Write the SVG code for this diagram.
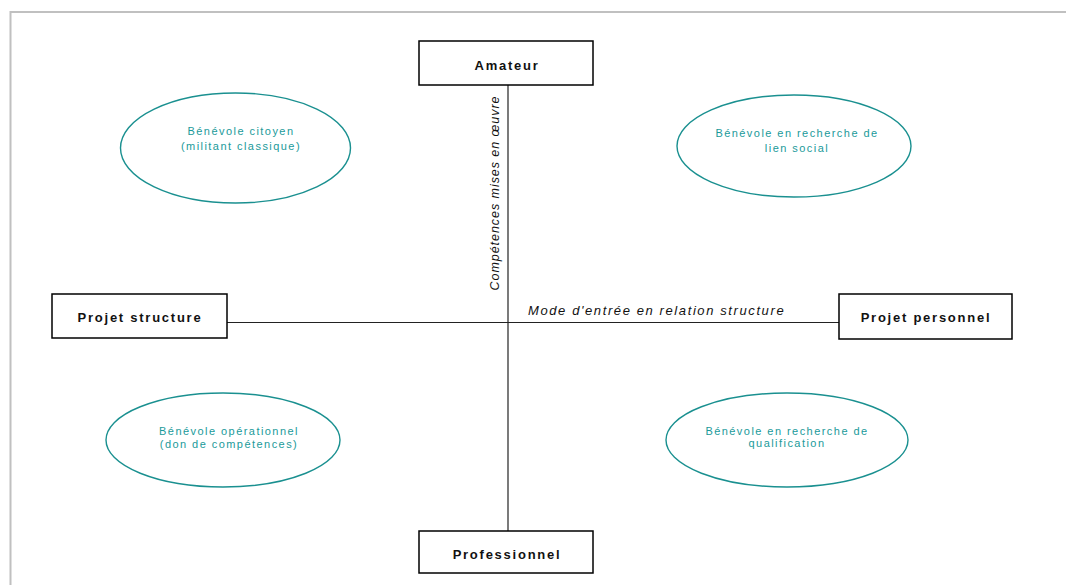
<svg xmlns="http://www.w3.org/2000/svg" width="1066" height="585" viewBox="0 0 1066 585">
<style>
.box{fill:#fff;stroke:#000;stroke-width:1.5}
.bt{font-family:"Liberation Sans",Arial,sans-serif;font-weight:bold;font-size:13px;letter-spacing:1.75px;fill:#111;text-anchor:middle}
.ell{fill:#fff;stroke:#1a9090;stroke-width:1.4}
.et{font-family:"Liberation Sans",Arial,sans-serif;font-size:11px;letter-spacing:1.45px;fill:#1a9a9a;text-anchor:middle}
.ax{stroke:#222;stroke-width:1.2;fill:none}
.lab{font-family:"Liberation Sans",Arial,sans-serif;font-style:italic;font-size:13px;letter-spacing:1.6px;fill:#111}
.vlab{font-family:"Liberation Sans",Arial,sans-serif;font-style:italic;font-size:12.5px;letter-spacing:0.95px;fill:#111}
</style>
<rect width="1066" height="585" fill="#fff"/>
<path d="M10.5 585 V12 H1066" fill="none" stroke="#c0c0c0" stroke-width="2"/>
<g id="connectors">
<line class="ax" x1="508" y1="85" x2="508" y2="531"/>
<line class="ax" x1="227" y1="322.5" x2="839" y2="322.5"/>
<text class="lab" x="528" y="315">Mode d'entrée en relation structure</text>
<text class="vlab" transform="translate(499 193) rotate(-90)" text-anchor="middle">Compétences mises en œuvre</text>
</g>
<g id="amateur"><rect class="box" x="419" y="41" width="174" height="44"/><text class="bt" x="507" y="70">Amateur</text></g>
<g id="projet-structure"><rect class="box" x="52" y="294" width="175" height="44"/><text class="bt" x="140" y="322">Projet structure</text></g>
<g id="projet-personnel"><rect class="box" x="839" y="294" width="173" height="45"/><text class="bt" x="926" y="322">Projet personnel</text></g>
<g id="professionnel"><rect class="box" x="419" y="531" width="174" height="42"/><text class="bt" x="507" y="559">Professionnel</text></g>
<g id="citoyen"><ellipse class="ell" cx="235.5" cy="148" rx="115" ry="55"/><text class="et" x="241" y="135">Bénévole citoyen</text><text class="et" x="241" y="150">(militant classique)</text></g>
<g id="lien-social"><ellipse class="ell" cx="794" cy="146" rx="117" ry="51"/><text class="et" x="797" y="137">Bénévole en recherche de</text><text class="et" x="797" y="152">lien social</text></g>
<g id="operationnel"><ellipse class="ell" cx="223" cy="440" rx="117" ry="47"/><text class="et" x="229" y="435">Bénévole opérationnel</text><text class="et" x="229" y="448">(don de compétences)</text></g>
<g id="qualification"><ellipse class="ell" cx="787" cy="440" rx="121" ry="47"/><text class="et" x="787" y="435">Bénévole en recherche de</text><text class="et" x="787" y="447">qualification</text></g>
</svg>
